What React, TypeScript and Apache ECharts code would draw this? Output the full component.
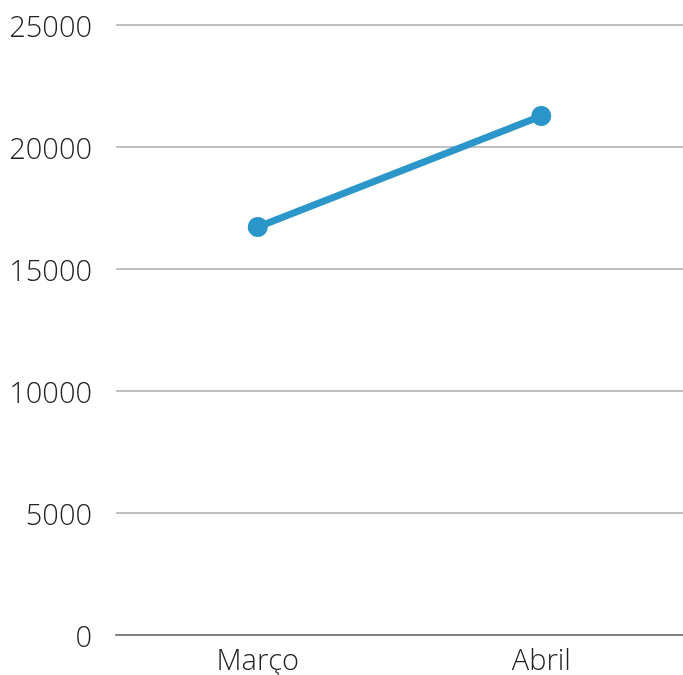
import React, { useEffect, useRef } from "react";
import * as echarts from "echarts";

const categories = ["Março", "Abril"];
const values = [16720, 21270];
const yTicks = { min: 0, max: 25000, interval: 5000 };

export default function App() {
  const ref = useRef<HTMLDivElement>(null);
  useEffect(() => {
    const chart = echarts.init(ref.current!, null, { renderer: "svg" });
    chart.setOption({
      animation: false,
      grid: { left: 116, right: 0, top: 25, bottom: 40, containLabel: false },
      xAxis: {
        type: "category",
        data: categories,
        boundaryGap: true,
        axisLine: { show: true, lineStyle: { color: "#808080", width: 2 } },
        axisTick: { show: false },
        axisLabel: {
          color: "#222222",
          fontFamily: "Open Sans",
          fontWeight: 300,
          fontSize: 29,
          margin: 9,
        },
      },
      yAxis: {
        type: "value",
        min: yTicks.min,
        max: yTicks.max,
        interval: yTicks.interval,
        axisLine: { show: false },
        axisTick: { show: false },
        splitLine: { lineStyle: { color: "#c0c0c0", width: 2 } },
        axisLabel: {
          color: "#222222",
          fontFamily: "Open Sans",
          fontWeight: 300,
          fontSize: 29,
          margin: 24,
          formatter: (v: number) => String(v),
        },
      },
      series: [
        {
          type: "line",
          data: values,
          symbol: "circle",
          symbolSize: 20,
          lineStyle: { color: "#2b96c9", width: 7 },
          itemStyle: { color: "#2b96c9" },
        },
      ],
    });
    return () => chart.dispose();
  }, []);
  return (
    <div
      ref={ref}
      style={{ position: "fixed", left: 0, top: 0, width: 683, height: 675 }}
    />
  );
}
